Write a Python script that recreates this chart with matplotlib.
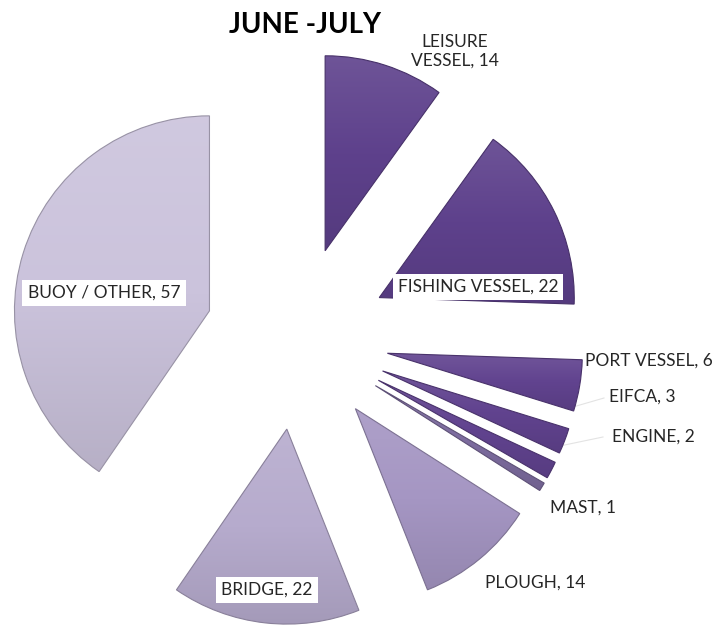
import numpy as np
import matplotlib.pyplot as plt
from matplotlib.colors import LinearSegmentedColormap, to_rgb

plt.rcParams['font.family'] = ['Lato', 'DejaVu Sans']

# data
labels = ['LEISURE\nVESSEL, 14', 'FISHING VESSEL, 22', 'PORT VESSEL, 6', 'EIFCA, 3',
          'ENGINE, 2', 'MAST, 1', 'PLOUGH, 14', 'BRIDGE, 22', 'BUOY / OTHER, 57']
values = [14, 22, 6, 3, 2, 1, 14, 22, 57]
colors = ['#5e418c', '#5e418c', '#61438f', '#61438f', '#61438f',
          '#7d6c9f', '#a596c3', '#b6abcd', '#cbc3dc']
boxed = [False, True, False, False, False, False, False, True, True]

# label anchor positions in pixels (layout only)
label_px = [(455, 51), (478, 287), (649, 361), (642, 397), (653, 437),
            (583, 508), (535, 583), (267, 590), (104, 293)]

W, H = 715, 628
cx, cy, R = 297, 338, 195


def px(x, y):
    return (x - cx) / R, (cy - y) / R


fig = plt.figure(figsize=(W / 100, H / 100), dpi=100)
ax = fig.add_axes([0, 0, 1, 1])

wedges, _ = ax.pie(values, colors=colors, startangle=90, counterclock=False,
                   explode=[0.47] * len(values), radius=1,
                   wedgeprops=dict(linewidth=0.8))

# vertical shading inside each wedge, lighter on top
grad = np.linspace(0, 1, 256).reshape(-1, 1)
for w, c in zip(wedges, colors):
    base = np.array(to_rgb(c))
    top = base + (1 - base) * 0.1
    bot = base * 0.9
    cmap = LinearSegmentedColormap.from_list('g', [top, base, bot])
    verts = w.get_patch_transform().transform(w.get_path().vertices)
    x0, y0 = verts.min(axis=0)
    x1, y1 = verts.max(axis=0)
    im = ax.imshow(grad, extent=[x0, x1, y0, y1], origin='upper', cmap=cmap,
                   aspect='auto', zorder=w.get_zorder() + 0.1)
    im.set_clip_path(w)
    w.set_edgecolor(tuple(base * 0.75))
    w.set_zorder(w.get_zorder() + 0.2)
    w.set_facecolor('none')

for lab, (lx, ly), b in zip(labels, label_px, boxed):
    x, y = px(lx, ly)
    kw = {}
    if b:
        kw['bbox'] = dict(boxstyle='square,pad=0.3', fc='white', ec='none')
    ax.text(x, y, lab, ha='center', va='center', fontsize=12.5,
            color='#262626', zorder=5, linespacing=1.2, **kw)

# faint leader lines
for (xa, ya), (xb, yb) in [((566, 409), (604, 398)), ((555, 447), (603, 437))]:
    p0, p1 = px(xa, ya), px(xb, yb)
    ax.plot([p0[0], p1[0]], [p0[1], p1[1]], color='#e3e3e3', lw=0.8, zorder=1)

tx, ty = px(305, 25)
ax.text(tx, ty, 'JUNE -JULY', ha='center', va='center', fontsize=20,
        fontweight='bold', color='black')

ax.set_xlim(-cx / R, (W - cx) / R)
ax.set_ylim((cy - H) / R, cy / R)
ax.set_aspect('equal')
ax.axis('off')

plt.savefig('out.png', dpi=100)
